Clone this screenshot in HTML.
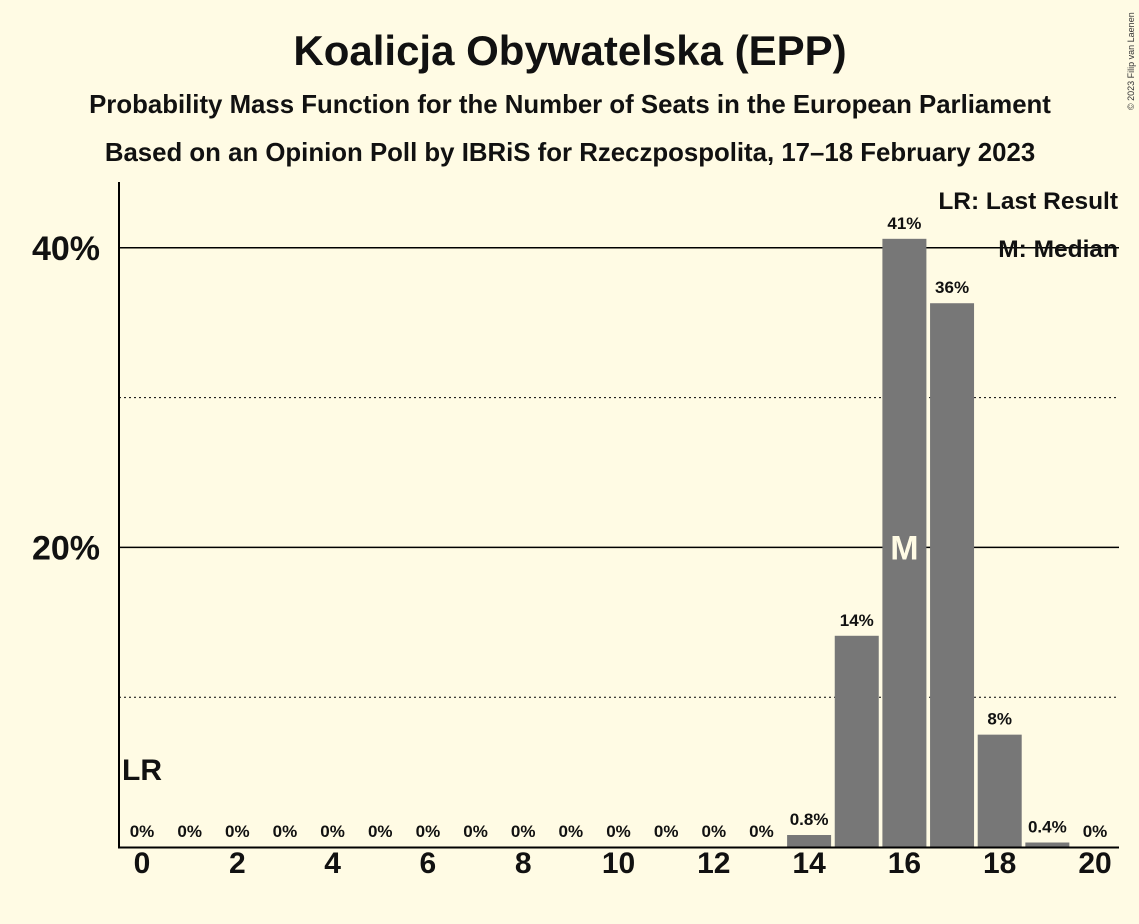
<!DOCTYPE html>
<html><head><meta charset="utf-8"><style>
body{margin:0;background:#fffbe4;}
svg{display:block;font-family:"Liberation Sans",sans-serif;font-weight:bold;}
</style></head><body>
<svg id="c" width="1139" height="924" viewBox="0 0 1139 924">
<rect width="1139" height="924" fill="#fffbe4"/>
<text x="570" y="65" font-size="42" text-anchor="middle" fill="#111">Koalicja Obywatelska (EPP)</text>
<text x="570" y="113" font-size="25.8" text-anchor="middle" fill="#111">Probability Mass Function for the Number of Seats in the European Parliament</text>
<text x="570" y="161" font-size="25.8" text-anchor="middle" fill="#111">Based on an Opinion Poll by IBRiS for Rzeczpospolita, 17–18 February 2023</text>
<text x="1134" y="110" font-size="9" font-weight="normal" fill="#333" transform="rotate(-90 1134 110)">© 2023 Filip van Laenen</text>
<g id="grid"></g>
<g id="bars"></g>
<g id="labels"></g>
<line x1="119" y1="182" x2="119" y2="848" stroke="#000" stroke-width="2"/>
<line x1="118" y1="847.5" x2="1119" y2="847.5" stroke="#000" stroke-width="2"/>
<text x="1118" y="209" font-size="24.5" text-anchor="end" fill="#111">LR: Last Result</text>
<text x="1118" y="257" font-size="24.5" text-anchor="end" fill="#111">M: Median</text>
<text x="122" y="780" font-size="30" fill="#111">LR</text>
</svg>
<script>
const seats=[0,1,2,3,4,5,6,7,8,9,10,11,12,13,14,15,16,17,18,19,20];
const probs=[0,0,0,0,0,0,0,0,0,0,0,0,0,0,0.8,14.1,40.6,36.3,7.5,0.3,0];
const valueLabels=["0%","0%","0%","0%","0%","0%","0%","0%","0%","0%","0%","0%","0%","0%","0.8%","14%","41%","36%","8%","0.4%","0%"];
const yTicks=[10,20,30,40];
const yTickLabels={20:"20%",40:"40%"};
const medianSeat=16;
const NS="http://www.w3.org/2000/svg";
const x=s=>142+s*47.65;
const y=v=>847-v*14.98;
function mk(t,a,p){const e=document.createElementNS(NS,t);for(const k in a)e.setAttribute(k,a[k]);p.appendChild(e);return e;}
const grid=document.getElementById('grid'),bars=document.getElementById('bars'),labels=document.getElementById('labels');
yTicks.forEach(t=>{
 const major=t%20===0;
 const l=mk('line',{x1:119,x2:1119,y1:y(t),y2:y(t),stroke:'#000','stroke-width':major?1.5:1,'stroke-dasharray':major?'':'2,3'},grid);
 
 
 if(yTickLabels[t]){const tx=mk('text',{x:100,y:y(t)+12,'font-size':34,'text-anchor':'end',fill:'#111'},grid);tx.textContent=yTickLabels[t];
 
 }
});
seats.forEach((s,i)=>{
 const v=probs[i];
 if(v>0){const r=mk('rect',{x:x(s)-22,y:y(v),width:44,height:847-y(v),fill:'#777'},bars);
 
 }
 const t=mk('text',{x:x(s),y:y(v)-10,'font-size':17,'text-anchor':'middle',fill:'#111'},labels);
 t.textContent=valueLabels[i];
 
 
 if(s%2===0){const xt=mk('text',{x:x(s),y:873,'font-size':30,'text-anchor':'middle',fill:'#111'},labels);xt.textContent=s;
 
 }
 if(s===medianSeat){const m=mk('text',{x:x(s),y:y(20)+12,'font-size':34,'text-anchor':'middle',fill:'#fffbe4'},labels);m.textContent='M';
 
 }
});
</script>
</body></html>
